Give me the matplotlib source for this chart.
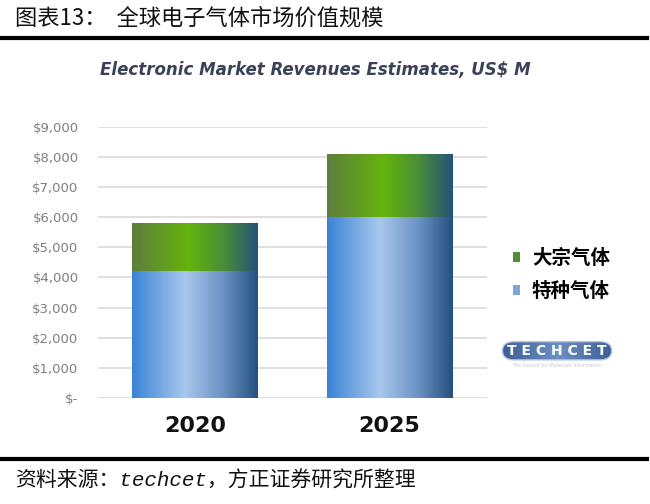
import numpy as np
import matplotlib
matplotlib.use('Agg')
import matplotlib.pyplot as plt
from matplotlib.colors import LinearSegmentedColormap
from matplotlib.patches import Patch, FancyBboxPatch

plt.rcParams['font.family'] = ['Noto Sans CJK SC', 'DejaVu Sans']

years = ['2020', '2025']
specialty = [4200, 6000]     # 特种气体
bulk = [1600, 2100]          # 大宗气体
series_names = ['大宗气体', '特种气体']
yticks = [0, 1000, 2000, 3000, 4000, 5000, 6000, 7000, 8000, 9000]
ytick_labels = ['$-', '$1,000', '$2,000', '$3,000', '$4,000', '$5,000',
                '$6,000', '$7,000', '$8,000', '$9,000']

blue_cmap = LinearSegmentedColormap.from_list('b', [
    (0.0, '#3a84d6'), (0.42, '#a8c7ec'), (0.72, '#6c93c4'), (1.0, '#23507f')])
green_cmap = LinearSegmentedColormap.from_list('g', [
    (0.0, '#5e7e3e'), (0.45, '#64b40c'), (0.72, '#4a8f36'), (1.0, '#245379')])
logo_cmap = LinearSegmentedColormap.from_list('l', ['#3d5f96', '#6d8fc2', '#3d5f96'])

fig = plt.figure(figsize=(6.5, 5.04), dpi=100)
ax = fig.add_axes([0.1508, 0.2103, 0.598, 0.538])

x = np.arange(len(years))
width = 0.646
grad = np.linspace(0, 1, 256).reshape(1, -1)


def gradient_bars(bars, cmap):
    for b in bars:
        b.set_facecolor('none')
        b.set_edgecolor('none')
        x0, y0 = b.get_x(), b.get_y()
        im = ax.imshow(grad, cmap=cmap, aspect='auto', zorder=2,
                       extent=[x0, x0 + b.get_width(), y0, y0 + b.get_height()])
        im.set_clip_path(b)


b1 = ax.bar(x, specialty, width, zorder=2)
gradient_bars(b1, blue_cmap)
b2 = ax.bar(x, bulk, width, bottom=specialty, zorder=2)
gradient_bars(b2, green_cmap)

ax.set_xlim(-0.5, 1.5)
ax.set_ylim(0, 9000)
ax.set_yticks(yticks)
ax.set_yticklabels(ytick_labels, color='#7f7f7f', fontsize=9.5, family='DejaVu Sans')
ax.set_xticks(x)
ax.set_xticklabels(years, fontsize=16, fontweight='bold', color='#111111',
                   family='DejaVu Sans')
ax.tick_params(axis='both', length=0)
ax.tick_params(axis='y', pad=14)
ax.tick_params(axis='x', pad=13)
ax.grid(axis='y', color='#d9d9d9', linewidth=1.2, zorder=0)
for s in ax.spines.values():
    s.set_visible(False)

handles = [Patch(facecolor='#4f8f2f'), Patch(facecolor='#7aa6da')]
leg = fig.legend(handles, series_names, loc='upper left',
                 bbox_to_anchor=(0.762, 0.541), frameon=False,
                 handlelength=0.38, handleheight=0.38, handletextpad=0.6,
                 labelspacing=0.72,
                 prop={'family': 'Noto Sans CJK SC', 'weight': 'bold', 'size': 14})

# techcet logo
logo = FancyBboxPatch((0.773, 0.286), 0.168, 0.036,
                      boxstyle='round,pad=0,rounding_size=0.018',
                      transform=fig.transFigure, facecolor='none',
                      edgecolor='#b3c2dc', linewidth=1.0, zorder=3)
fig.patches.append(logo)
lim = fig.figimage(np.linspace(0, 1, 110).reshape(1, -1).repeat(18, axis=0),
                   xo=503, yo=144, cmap=logo_cmap, zorder=2)
lim.set_clip_path(logo)
fig.text(0.857, 0.304, 'T E C H C E T', color='white', fontsize=10,
         fontweight='bold', ha='center', va='center', family='DejaVu Sans',
         zorder=4)
fig.text(0.857, 0.274, 'The Source for Materials Information', color='#c8c8c8',
         fontsize=3.5, ha='center', va='center', family='DejaVu Sans')

ax.set_title('Electronic Market Revenues Estimates, US$ M', fontsize=12,
             fontweight='bold', style='italic', color='#3b4158',
             family='DejaVu Sans', pad=0, x=0.56, y=1.19)

fig.text(0.023, 0.965, '图表13：  全球电子气体市场价值规模', fontsize=16,
         ha='left', va='center', color='#111111')
fig.add_artist(plt.Line2D([0, 0.995], [0.924, 0.924], transform=fig.transFigure,
                          color='black', linewidth=3))
fig.add_artist(plt.Line2D([0, 0.995], [0.089, 0.089], transform=fig.transFigure,
                          color='black', linewidth=3))
fig.text(0.023, 0.046, '资料来源：techcet，方正证券研究所整理', fontsize=15,
         style='italic', ha='left', va='center', color='#111111',
         family=['Liberation Mono', 'Noto Sans CJK SC'])

fig.savefig('out.png', dpi=100)
